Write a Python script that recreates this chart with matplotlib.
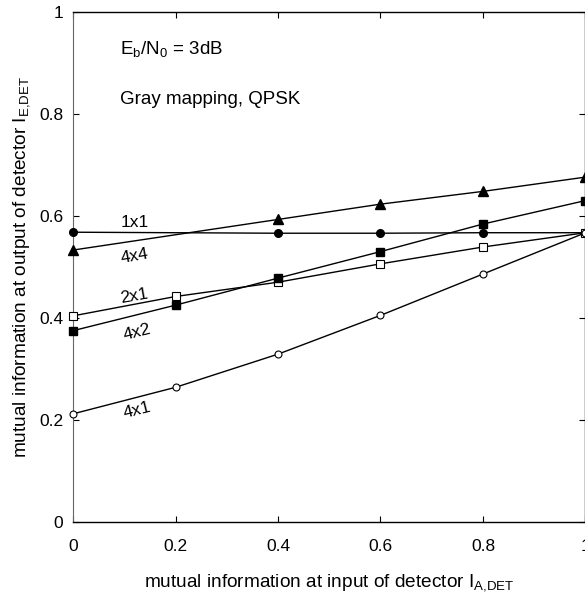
import matplotlib
matplotlib.use("Agg")
import matplotlib.pyplot as plt

plt.rcParams['font.family'] = ['Liberation Sans', 'DejaVu Sans']
plt.rcParams['mathtext.fontset'] = 'custom'
plt.rcParams['mathtext.rm'] = 'Liberation Sans'
plt.rcParams['mathtext.it'] = 'Liberation Sans'

# input mutual information (x) for each curve
x_full = [0.0, 0.2, 0.4, 0.6, 0.8, 1.0]
x_part = [0.0, 0.4, 0.6, 0.8, 1.0]

# output mutual information
y_1x1 = [0.568, 0.566, 0.566, 0.567, 0.567]
y_4x4 = [0.533, 0.593, 0.623, 0.648, 0.676]
y_2x1 = [0.404, 0.442, 0.470, 0.506, 0.539, 0.567]
y_4x2 = [0.375, 0.425, 0.478, 0.530, 0.584, 0.630]
y_4x1 = [0.212, 0.264, 0.329, 0.405, 0.486, 0.567]

x_ticks = [0, 0.2, 0.4, 0.6, 0.8, 1]
y_ticks = [0, 0.2, 0.4, 0.6, 0.8, 1]

fig = plt.figure(figsize=(5.85, 6.01), dpi=100)
ax = fig.add_axes([0.1248, 0.1314, 0.876, 0.849])

ax.plot(x_part, y_1x1, color='black', lw=1, marker='o', ms=5.5,
        mfc='black', mec='black', clip_on=False, zorder=3)
ax.plot(x_part, y_4x4, color='black', lw=1, marker='^', ms=7,
        mfc='black', mec='black', clip_on=False, zorder=3)
ax.plot(x_full, y_2x1, color='black', lw=1, marker='s', ms=6,
        mfc='white', mec='black', mew=0.8, clip_on=False, zorder=3)
ax.plot(x_full, y_4x2, color='black', lw=1, marker='s', ms=6,
        mfc='black', mec='black', clip_on=False, zorder=3)
ax.plot(x_full, y_4x1, color='black', lw=1, marker='o', ms=5,
        mfc='white', mec='black', mew=0.8, clip_on=False, zorder=3)

ax.set_xlim(0, 1)
ax.set_ylim(0, 1)
ax.set_xticks(x_ticks)
ax.set_yticks(y_ticks)
ax.set_xticklabels(['0', '0.2', '0.4', '0.6', '0.8', '1'])
ax.set_yticklabels(['0', '0.2', '0.4', '0.6', '0.8', '1'])
ax.tick_params(direction='in', length=4, width=0.8, labelsize=12.5,
               top=True, right=True)
ax.tick_params(axis='x', pad=12)
ax.tick_params(axis='y', pad=7)
ax.spines['left'].set_color('#666666')
for s in ['top', 'bottom', 'right']:
    ax.spines[s].set_linewidth(1)

ax.set_xlabel(r'mutual information at input of detector I$_{\mathrm{A{,}DET}}$',
              fontsize=13.7, labelpad=13)
ax.set_ylabel(r'mutual information at output of detector I$_{\mathrm{E{,}DET}}$',
              fontsize=13.7, labelpad=5)

ax.text(0.092, 0.928, r'E$_{\mathrm{b}}$/N$_{0}$ = 3dB', transform=ax.transAxes,
        fontsize=13.5, va='center', ha='left')
ax.text(0.092, 0.828, 'Gray mapping, QPSK', transform=ax.transAxes,
        fontsize=13.5, va='center', ha='left')

# curve labels
ax.text(0.12, 0.587, '1x1', fontsize=12.5, ha='center', va='center')
ax.text(0.12, 0.522, '4x4', fontsize=12.5, ha='center', va='center', rotation=10)
ax.text(0.12, 0.443, '2x1', fontsize=12.5, ha='center', va='center', rotation=10)
ax.text(0.125, 0.372, '4x2', fontsize=12.5, ha='center', va='center', rotation=14)
ax.text(0.125, 0.22, '4x1', fontsize=12.5, ha='center', va='center', rotation=14)

fig.savefig('out.png', dpi=100)
